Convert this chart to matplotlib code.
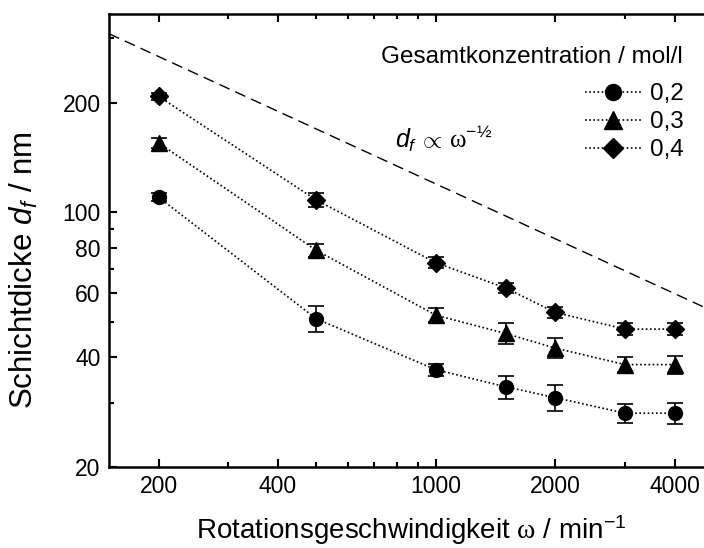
import numpy as np
import matplotlib
matplotlib.use('Agg')
import matplotlib.pyplot as plt
from matplotlib.ticker import FixedLocator, NullFormatter, FixedFormatter

plt.rcParams['font.family'] = 'Liberation Sans'
plt.rcParams['mathtext.fontset'] = 'custom'
plt.rcParams['mathtext.rm'] = 'Liberation Sans'
plt.rcParams['mathtext.it'] = 'Liberation Sans:italic'
plt.rcParams['mathtext.sf'] = 'Liberation Serif'

# rotation speed in 1/min
omega = [200, 500, 1000, 1500, 2000, 3000, 4000]

# layer thickness in nm per total concentration
d_02 = [110, 51, 37.0, 33.2, 31.0, 28.1, 28.1]
err_02 = [2.8, 4.2, 1.4, 2.4, 2.5, 1.7, 1.8]
d_03 = [155, 78.6, 52.2, 46.5, 42.4, 38.2, 38.2]
err_03 = [5.0, 3.3, 2.3, 3.1, 2.7, 1.8, 2.1]
d_04 = [208, 108, 72.7, 62, 53.1, 47.8, 47.8]
err_04 = [5.0, 4.6, 2.5, 1.8, 1.8, 1.8, 1.8]

series_labels = ['0,2', '0,3', '0,4']
markers = ['o', '^', 'D']
marker_sizes = [10, 11, 9]

# reference line d_f ~ omega^-1/2 (end points)
ref_x = [150, 5000]
ref_y = [309, 53.5]

x_major = [200, 400, 1000, 2000, 4000]
x_minor = [300, 500, 600, 700, 800, 900, 3000]
y_major = [20, 40, 60, 80, 100, 200]
y_minor = [30, 50, 70, 90, 300]

fig = plt.figure(figsize=(7.04, 5.48), dpi=100)
ax = fig.add_axes([109 / 704, 1 - 467 / 548, (713 - 109) / 704, (467 - 14) / 548])
ax.set_xscale('log')
ax.set_yscale('log')

ax.plot(ref_x, ref_y, color='black', lw=1, dashes=(8, 4.5))

for y, e, lab, m, ms in zip([d_02, d_03, d_04], [err_02, err_03, err_04],
                            series_labels, markers, marker_sizes):
    ax.errorbar(omega, y, yerr=e, fmt='none', ecolor='black', elinewidth=1.2,
                capsize=6, capthick=1.2)
    ax.plot(omega, y, color='black', ls=(0, (1, 1.5)), lw=1.2, marker=m,
            ms=ms, markerfacecolor='black', markeredgecolor='black', label=lab)

ax.set_xlim(150, 5000)
ax.set_ylim(20, 350)

ax.xaxis.set_major_locator(FixedLocator(x_major))
ax.xaxis.set_major_formatter(FixedFormatter([str(v) for v in x_major]))
ax.xaxis.set_minor_locator(FixedLocator(x_minor))
ax.xaxis.set_minor_formatter(NullFormatter())
ax.yaxis.set_major_locator(FixedLocator(y_major))
ax.yaxis.set_major_formatter(FixedFormatter([str(v) for v in y_major]))
ax.yaxis.set_minor_locator(FixedLocator(y_minor))
ax.yaxis.set_minor_formatter(NullFormatter())

ax.tick_params(which='both', direction='in', top=True, right=True, width=1.5)
ax.tick_params(which='major', length=6, labelsize=16.5, pad=6)
ax.tick_params(which='minor', length=3.5)
for s in ax.spines.values():
    s.set_linewidth(1.8)

ax.set_xlabel(r'Rotationsgeschwindigkeit $\mathsf{\omega}$ / min$^{-1}$', fontsize=20, labelpad=11)
ax.set_ylabel(r'Schichtdicke $\mathit{d}_{\mathit{f}}$ / nm', fontsize=22.5)
ax.yaxis.set_label_coords(-0.115, 0.435)

ax.text(790, 150, r'$\mathit{d}_{\mathit{f}}\,\propto\,\mathsf{\omega}^{-½}$', fontsize=18)

ax.text(683 / 704, 1 - 57 / 548, 'Gesamtkonzentration / mol/l', transform=fig.transFigure,
        ha='right', va='center', fontsize=17.5)
leg = ax.legend(loc='upper right',
                bbox_to_anchor=(684 / 704, 1 - 83 / 548), bbox_transform=fig.transFigure,
                frameon=False, fontsize=17.5, markerscale=1.15,
                handlelength=2.3, handletextpad=0.4, labelspacing=0.25,
                borderpad=0, borderaxespad=0)

fig.savefig('out.png', dpi=100)
